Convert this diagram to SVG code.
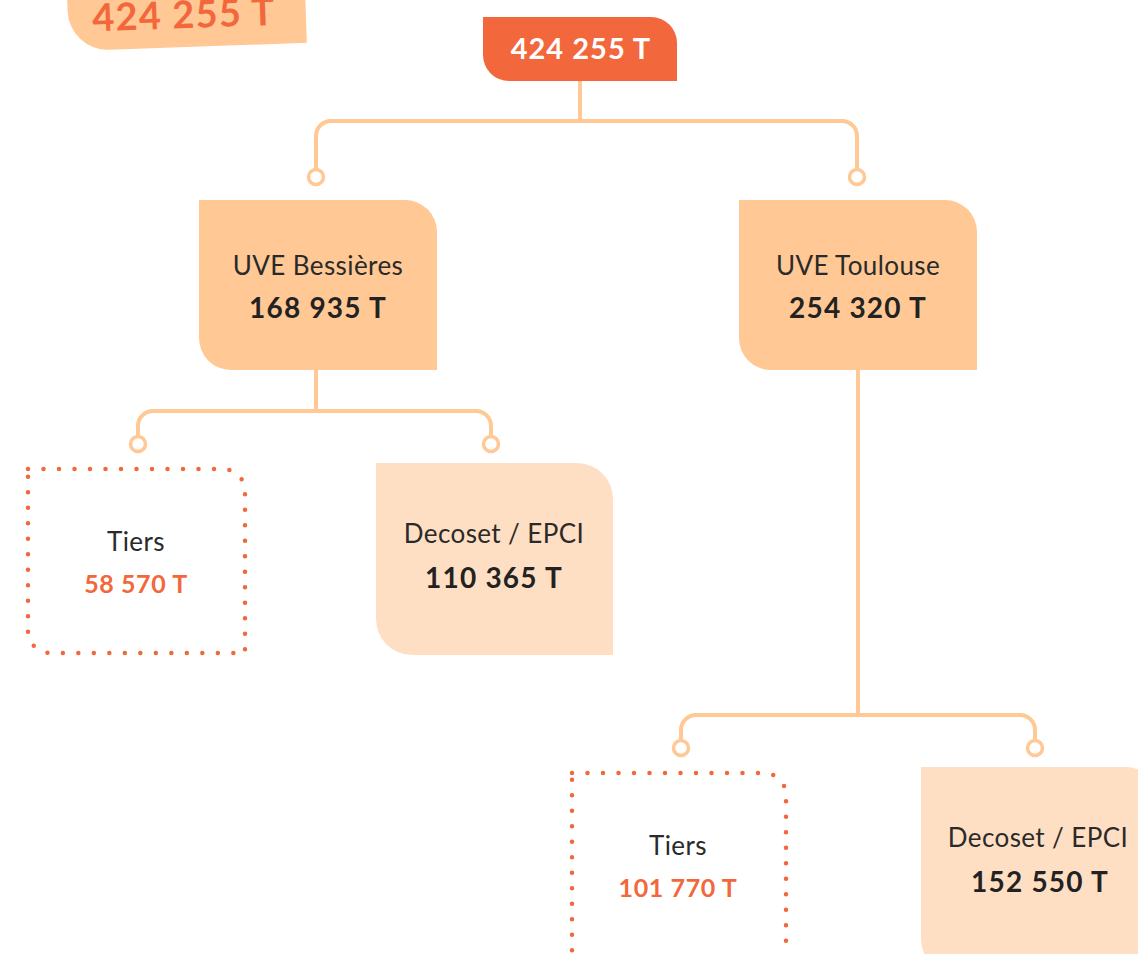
<svg xmlns="http://www.w3.org/2000/svg" width="1138" height="954" viewBox="0 0 1138 954">
<style>
.t{font-family:Lato,"Open Sans",sans-serif;text-anchor:middle}
.lbl{font-size:26px;fill:#2a2a2a;letter-spacing:0.4px}
.val{font-size:28px;font-weight:700;fill:#222;letter-spacing:1.2px}
.oval{font-size:25px;font-weight:700;fill:#F2673C;letter-spacing:0.6px}
.con{fill:none;stroke:#FFC894;stroke-width:4}
.dot{fill:#fff;stroke:#FFC894;stroke-width:3.5}
.dash{fill:none;stroke:#F2673C;stroke-width:4.5;stroke-linecap:round;stroke-dasharray:0 15.5}
</style>
<rect width="1138" height="954" fill="#fff"/>
<g id="badge" transform="rotate(-2 186 20)">
<path d="M68,-40 H306 V47 H108 A40 40 0 0 1 68,7 Z" fill="#FFC894"/>
<text class="t" x="184" y="28" font-size="38" font-weight="700" fill="#F2673C" letter-spacing="1.2">424 255 T</text>
</g>
<g id="connectors">
<path class="con" d="M580,81 V121"/>
<path class="con" d="M316,170 V136 A15 15 0 0 1 331,121 H842 A15 15 0 0 1 857,136 V170"/>
<path class="con" d="M316,370 V411"/>
<path class="con" d="M138,437 V426 A15 15 0 0 1 153,411 H476 A15 15 0 0 1 491,426 V437"/>
<path class="con" d="M858,370 V715"/>
<path class="con" d="M681,741 V730 A15 15 0 0 1 696,715 H1020 A15 15 0 0 1 1035,730 V741"/>
<circle class="dot" cx="316" cy="177" r="7.5"/>
<circle class="dot" cx="857" cy="177" r="7.5"/>
<circle class="dot" cx="138" cy="444" r="7.5"/>
<circle class="dot" cx="491" cy="444" r="7.5"/>
<circle class="dot" cx="681" cy="748" r="7.5"/>
<circle class="dot" cx="1035" cy="748" r="7.5"/>
</g>
<g id="root">
<path d="M483,17 H651 A26 26 0 0 1 677,43 V81 H509 A26 26 0 0 1 483,55 Z" fill="#F2673C"/>
<text class="t" x="581" y="59" font-size="29" font-weight="700" fill="#fff" letter-spacing="1">424 255 T</text>
</g>
<g id="uve-bessieres">
<path d="M199,200 H405 A32 32 0 0 1 437,232 V370 H231 A32 32 0 0 1 199,338 Z" fill="#FFC894"/>
<text class="t lbl" x="318" y="275">UVE Bessières</text>
<text class="t val" x="318" y="318">168 935 T</text>
</g>
<g id="uve-toulouse">
<path d="M739,200 H945 A32 32 0 0 1 977,232 V370 H771 A32 32 0 0 1 739,338 Z" fill="#FFC894"/>
<text class="t lbl" x="858" y="275">UVE Toulouse</text>
<text class="t val" x="858" y="318">254 320 T</text>
</g>
<g id="tiers-1">
<path class="dash" d="M28,469 H223 A22 22 0 0 1 245,491 V653 H50 A22 22 0 0 1 28,631 Z"/>
<text class="t lbl" x="136" y="551" font-size="24">Tiers</text>
<text class="t oval" x="136" y="593">58 570 T</text>
</g>
<g id="decoset-1">
<path d="M376,463 H577 A36 36 0 0 1 613,499 V655 H412 A36 36 0 0 1 376,619 Z" fill="#FFDFC3"/>
<text class="t lbl" x="494" y="543">Decoset / EPCI</text>
<text class="t val" x="494" y="588">110 365 T</text>
</g>
<g id="tiers-2">
<path class="dash" d="M572,773 H764 A22 22 0 0 1 786,795 V975 H594 A22 22 0 0 1 572,953 Z"/>
<text class="t lbl" x="678" y="855" font-size="24">Tiers</text>
<text class="t oval" x="678" y="897">101 770 T</text>
</g>
<g id="decoset-2">
<path d="M921,767 H1125 A36 36 0 0 1 1161,803 V975 H957 A36 36 0 0 1 921,939 Z" fill="#FFDFC3"/>
<text class="t lbl" x="1038" y="847">Decoset / EPCI</text>
<text class="t val" x="1040" y="892">152 550 T</text>
</g>
</svg>
